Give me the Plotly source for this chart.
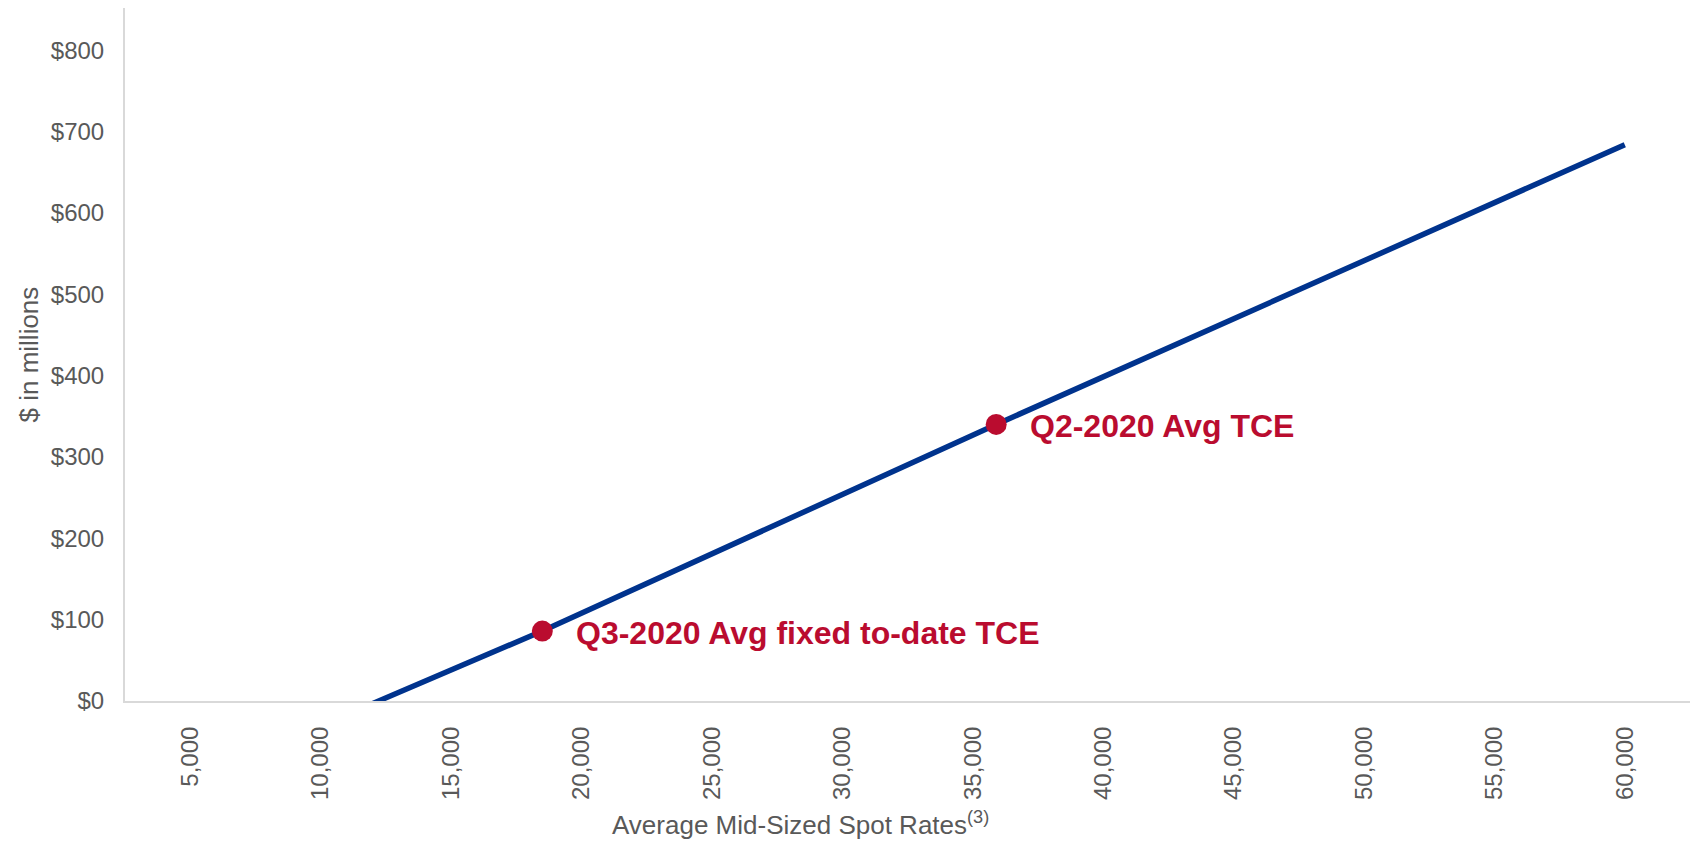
import plotly.graph_objects as go

# Earnings sensitivity line: average mid-sized spot rate ($/day) vs $ in millions
spot_rates = [12000, 18500, 35900, 60000]
earnings = [-3, 86, 340, 684]

# Highlighted reference points
point_rates = [18500, 35900]
point_values = [86, 340]
point_labels = ["Q3-2020 Avg fixed to-date TCE", "Q2-2020 Avg TCE"]

x_ticks = [5000, 10000, 15000, 20000, 25000, 30000, 35000, 40000, 45000, 50000, 55000, 60000]
y_ticks = [0, 100, 200, 300, 400, 500, 600, 700, 800]

LINE_BLUE = "#00338D"
POINT_RED = "#BA0C2F"
TEXT_GRAY = "#595959"
AXIS_GRAY = "#D9D9D9"
FONT = "Liberation Sans, Arial, sans-serif"

W, H = 1701, 842
L, R, T, B = 125, 11, 8, 141
plot_w = W - L - R

fig = go.Figure()

fig.add_trace(go.Scatter(
    x=spot_rates, y=earnings, mode="lines",
    line=dict(color=LINE_BLUE, width=5.5),
    hoverinfo="skip", showlegend=False,
))

fig.add_trace(go.Scatter(
    x=point_rates, y=point_values, mode="markers",
    marker=dict(color=POINT_RED, size=21),
    cliponaxis=False, showlegend=False,
))

for xv, yv, label in zip(point_rates, point_values, point_labels):
    fig.add_annotation(
        x=xv, y=yv, xref="x", yref="y", text=f"<b>{label}</b>",
        showarrow=False, xanchor="left", yanchor="middle", xshift=32, yshift=-2,
        font=dict(family=FONT, size=32, color=POINT_RED),
    )

# Axis titles
fig.add_annotation(
    x=(800 - L) / plot_w, y=-(823 - (H - B)) / (H - B - T),
    xref="paper", yref="paper", showarrow=False,
    xanchor="center", yanchor="middle",
    text="Average Mid-Sized Spot Rates<sup>(3)</sup>",
    font=dict(family=FONT, size=26, color=TEXT_GRAY),
)
fig.add_annotation(
    x=(28 - L) / plot_w, y=0.5, xref="paper", yref="paper", showarrow=False,
    xanchor="center", yanchor="middle", textangle=-90,
    text="$ in millions",
    font=dict(family=FONT, size=26, color=TEXT_GRAY),
)

fig.update_xaxes(
    range=[2500, 62500], tickvals=x_ticks,
    ticktext=[f"{v:,}" for v in x_ticks], tickangle=-90,
    showline=True, linecolor=AXIS_GRAY, linewidth=2,
    showgrid=False, zeroline=False, ticks="", ticklabelstandoff=14,
    tickfont=dict(family=FONT, size=24, color=TEXT_GRAY),
)
fig.update_yaxes(
    range=[0, 852], tickvals=y_ticks,
    ticktext=[f"${v}" for v in y_ticks],
    showline=True, linecolor=AXIS_GRAY, linewidth=2,
    showgrid=False, zeroline=False, ticks="", ticklabelstandoff=14,
    tickfont=dict(family=FONT, size=24, color=TEXT_GRAY),
)

fig.update_layout(
    width=W, height=H,
    margin=dict(l=L, r=R, t=T, b=B),
    paper_bgcolor="white", plot_bgcolor="white",
    font=dict(family=FONT),
    showlegend=False,
)

fig.write_html("out.html")
